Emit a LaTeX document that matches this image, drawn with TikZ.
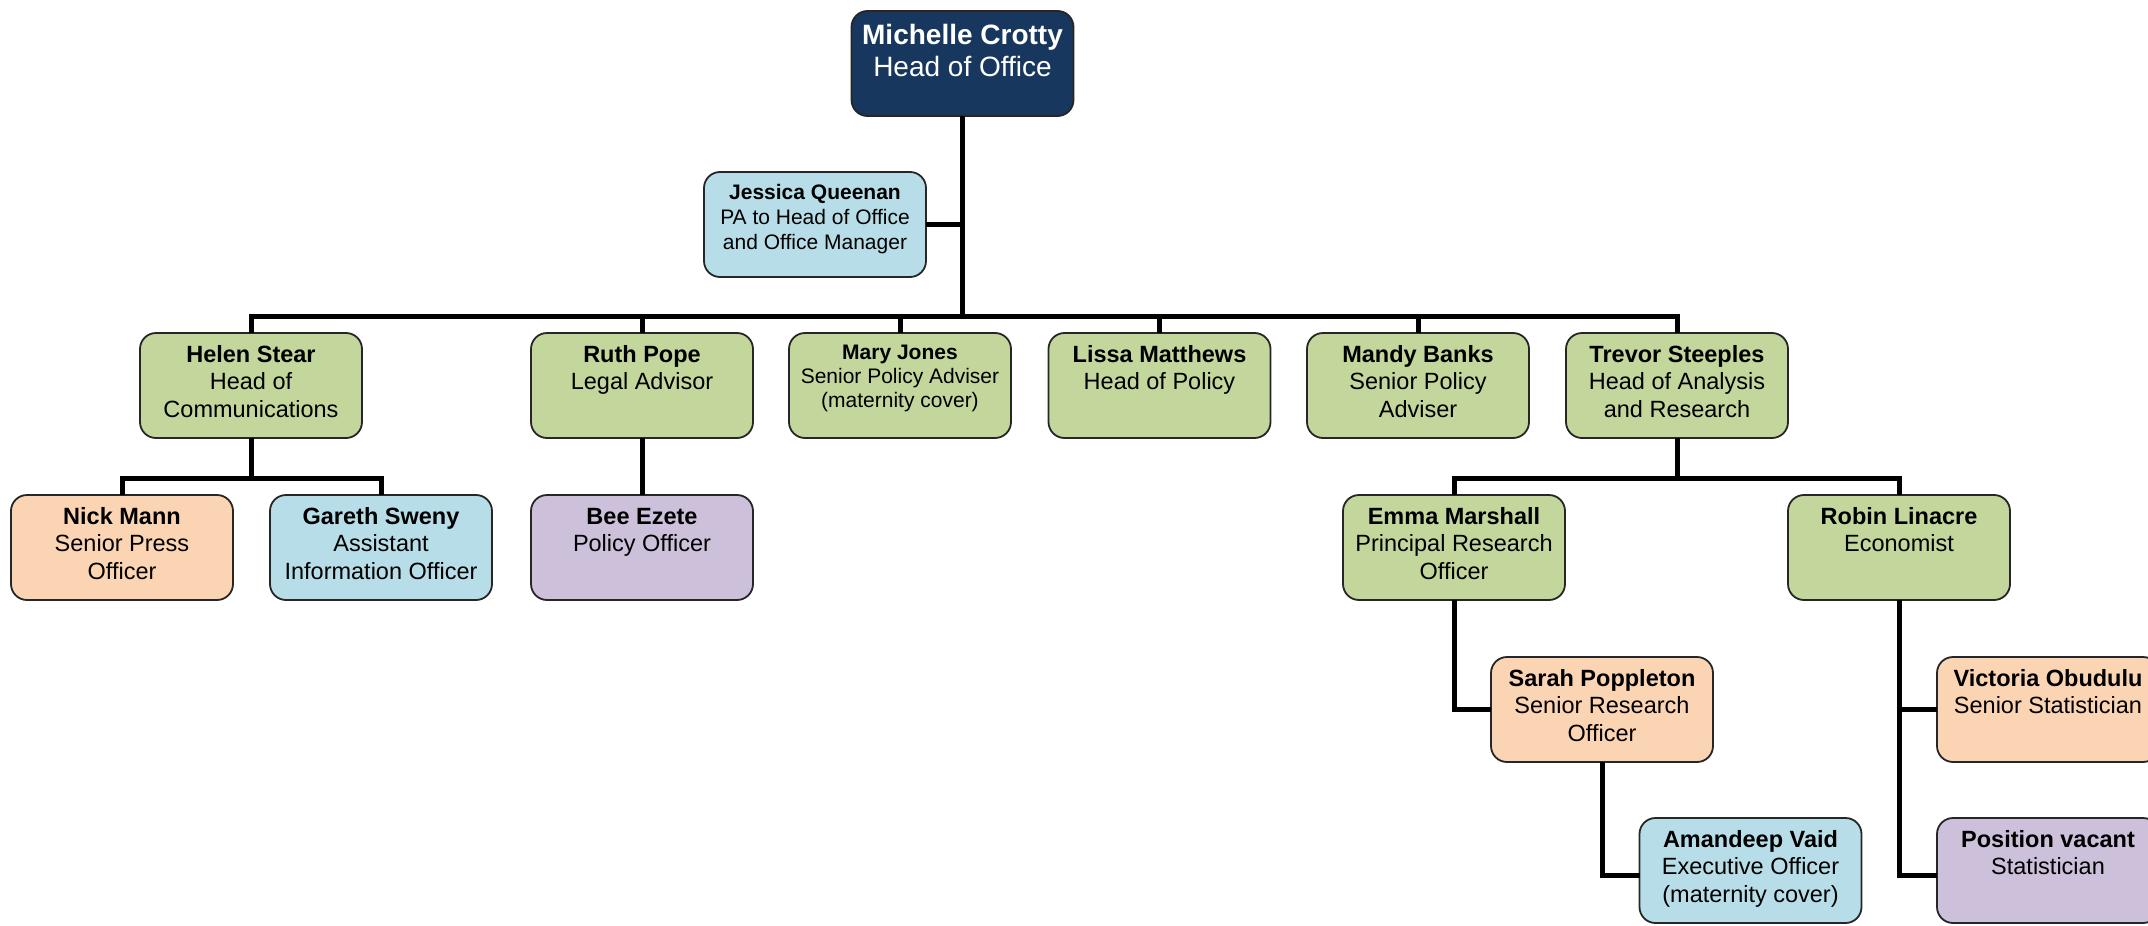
\documentclass[tikz,border=0pt]{standalone}
\usepackage{fontspec}
\setmainfont{Liberation Sans}
\definecolor{navy}{HTML}{17375E}
\definecolor{pgreen}{HTML}{C3D69B}
\definecolor{pblue}{HTML}{B7DEE8}
\definecolor{ppeach}{HTML}{FBD4B4}
\definecolor{ppurple}{HTML}{CCC0DA}
\newcommand{\boxtext}[4]{\parbox[c][105pt][t]{222pt}{\centering\fontsize{#1}{#2}\selectfont\rule{0pt}{#3}#4}}
\newcommand{\nt}[1]{\boxtext{23.5pt}{27.5pt}{29.4pt}{#1}}
\begin{document}
\begin{tikzpicture}[x=1pt,y=1pt,
  pbox/.style={draw=black!85, line width=1.8pt, rounded corners=16pt, inner sep=0pt, outer sep=0pt},
  conn/.style={draw=black, line width=5pt}]
\clip (0,0) rectangle (2148,-926);
% nodes
\node[pbox, fill=navy, text=white] (mc) at (962.5,-63.5) {\boxtext{28pt}{32pt}{33pt}{{\bfseries Michelle Crotty}\\Head of Office}};
\node[pbox, fill=pblue] (jq) at (815,-224.5) {\boxtext{21pt}{25pt}{27.5pt}{{\bfseries Jessica Queenan}\\PA to Head of Office\\and Office Manager}};
\node[pbox, fill=pgreen] (hs) at (251,-385.5) {\nt{{\bfseries Helen Stear}\\Head of\\Communications}};
\node[pbox, fill=pgreen] (rp) at (642,-385.5) {\nt{{\bfseries Ruth Pope}\\Legal Advisor}};
\node[pbox, fill=pgreen] (mj) at (900,-385.5) {\boxtext{21pt}{24pt}{26.5pt}{{\bfseries Mary Jones}\\Senior Policy Adviser\\(maternity cover)}};
\node[pbox, fill=pgreen] (lm) at (1159.5,-385.5) {\nt{{\bfseries Lissa Matthews}\\Head of Policy}};
\node[pbox, fill=pgreen] (mb) at (1418,-385.5) {\nt{{\bfseries Mandy Banks}\\Senior Policy\\Adviser}};
\node[pbox, fill=pgreen] (ts) at (1677,-385.5) {\nt{{\bfseries Trevor Steeples}\\Head of Analysis\\and Research}};
\node[pbox, fill=ppeach] (nm) at (122,-547.5) {\nt{{\bfseries Nick Mann}\\Senior Press\\Officer}};
\node[pbox, fill=pblue] (gs) at (381,-547.5) {\nt{{\bfseries Gareth Sweny}\\Assistant\\Information Officer}};
\node[pbox, fill=ppurple] (be) at (642,-547.5) {\nt{{\bfseries Bee Ezete}\\Policy Officer}};
\node[pbox, fill=pgreen] (em) at (1454,-547.5) {\nt{{\bfseries Emma Marshall}\\Principal Research\\Officer}};
\node[pbox, fill=pgreen] (rl) at (1899,-547.5) {\nt{{\bfseries Robin Linacre}\\Economist}};
\node[pbox, fill=ppeach] (sp) at (1602,-709.5) {\nt{{\bfseries Sarah Poppleton}\\Senior Research\\Officer}};
\node[pbox, fill=ppeach] (vo) at (2048,-709.5) {\nt{{\bfseries Victoria Obudulu}\\Senior Statistician}};
\node[pbox, fill=pblue] (av) at (1750.5,-870.5) {\nt{{\bfseries Amandeep Vaid}\\Executive Officer\\(maternity cover)}};
\node[pbox, fill=ppurple] (pv) at (2048,-870.5) {\nt{{\bfseries Position vacant}\\Statistician}};
% connectors
\coordinate (bus) at (0,-316);
\coordinate (sub) at (0,-478);
\draw[conn] (mc.south) -- (mc.south |- bus);
\draw[conn] (jq.east) -- (jq.east -| mc.south);
\draw[conn] (hs.north) |- (ts.north |- bus) -- (ts.north);
\foreach \n in {rp,mj,lm,mb} \draw[conn] (\n.north) -- (\n.north |- bus);
\draw[conn] (hs.south) -- (hs.south |- sub);
\draw[conn] (nm.north) |- (gs.north |- sub) -- (gs.north);
\draw[conn] (rp.south) -- (be.north);
\draw[conn] (ts.south) -- (ts.south |- sub);
\draw[conn] (em.north) |- (rl.north |- sub) -- (rl.north);
\draw[conn] (em.south) |- (sp.west);
\draw[conn] (sp.south) |- ([yshift=-4.5pt]av.west);
\draw[conn] (rl.south) |- (vo.west);
\draw[conn] (rl.south) |- ([yshift=-4.5pt]pv.west);
\end{tikzpicture}
\end{document}
